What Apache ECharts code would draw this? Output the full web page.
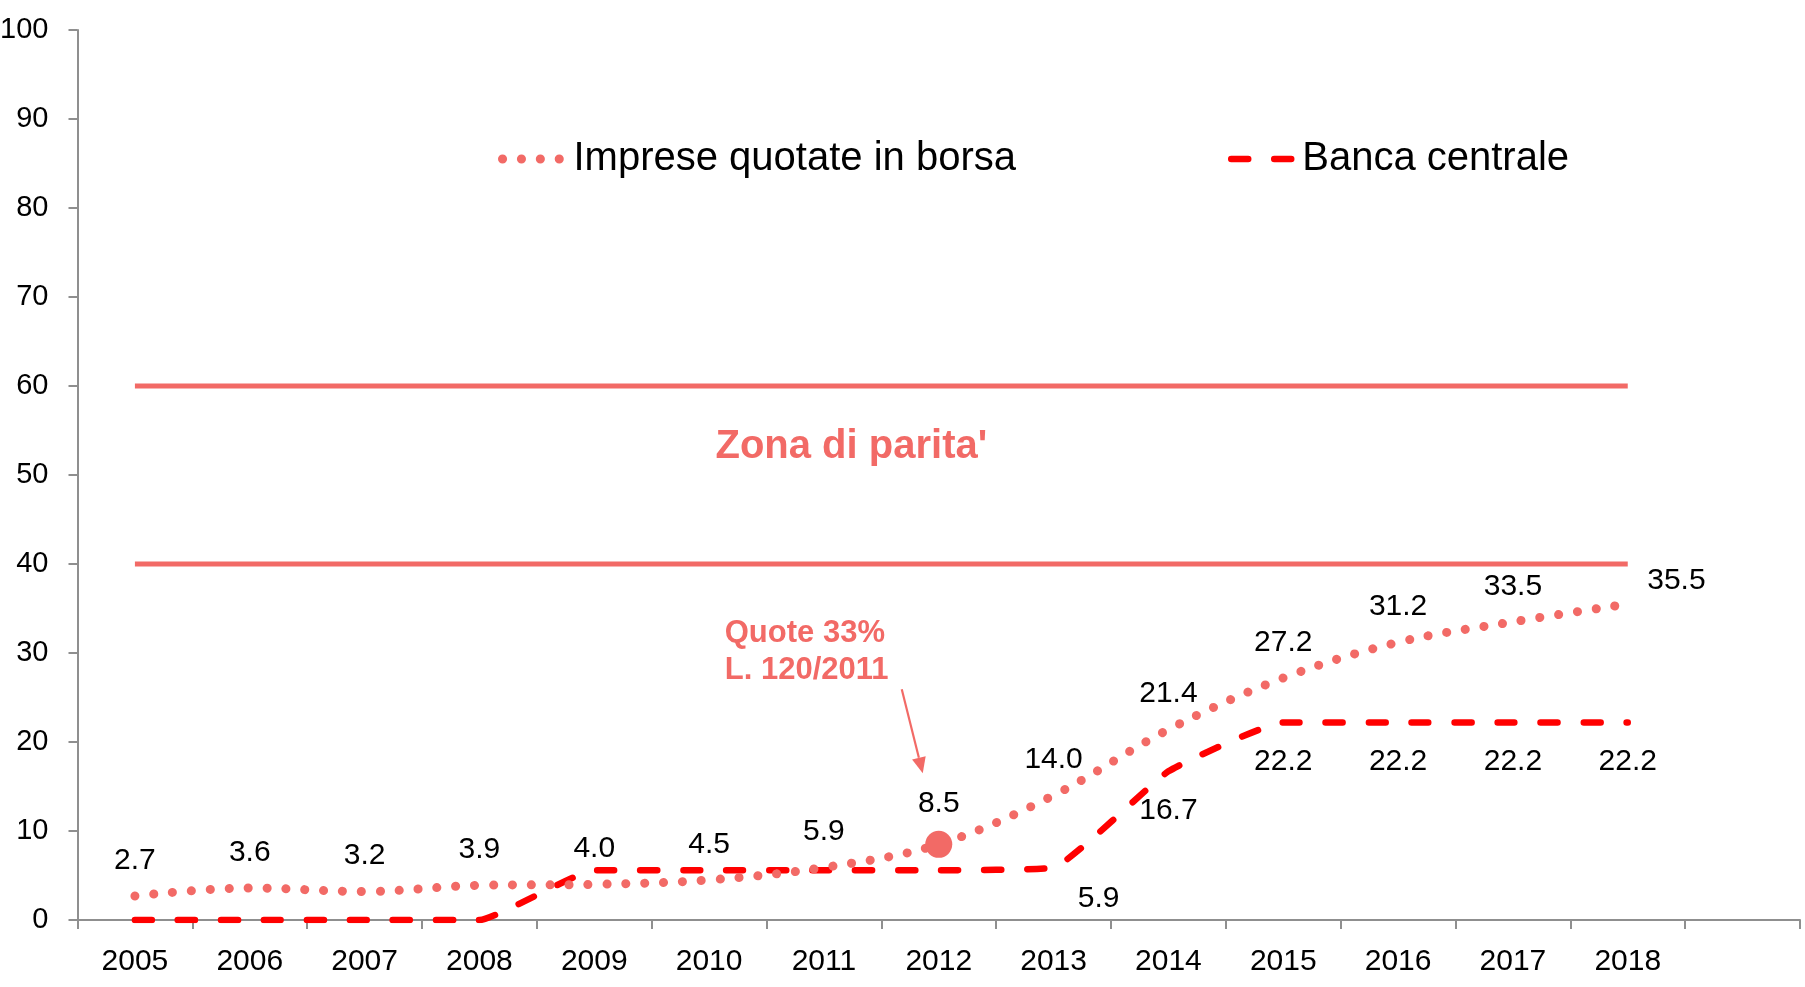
<!DOCTYPE html>
<html>
<head>
<meta charset="utf-8">
<script src="https://cdn.jsdelivr.net/npm/echarts@6/dist/echarts.min.js"></script>
<style>
html,body{margin:0;padding:0;background:#fff;}
#main{width:1805px;height:987px;}
</style>
</head>
<body>
<div id="main"></div>
<script>
// ---- data ----
const years = ['2005','2006','2007','2008','2009','2010','2011','2012','2013','2014','2015','2016','2017','2018'];
const impreseValues = [2.7, 3.6, 3.2, 3.9, 4.0, 4.5, 5.9, 8.5, 14.0, 21.4, 27.2, 31.2, 33.5, 35.5];
const bancaValues = [0, 0, 0, 0, 5.6, 5.6, 5.6, 5.6, 5.9, 16.7, 22.2, 22.2, 22.2, 22.2];
const parityUpper = 60;
const parityLower = 40;
const yTicks = [0, 10, 20, 30, 40, 50, 60, 70, 80, 90, 100];
const seriesNames = ['Imprese quotate in borsa', 'Banca centrale'];
const zoneLabel = "Zona di parita'";
const noteLabel = 'Quote 33%\nL. 120/2011';
const noteYear = '2012';

// ---- styling ----
const FONT = '"Liberation Sans", Arial, sans-serif';
const SALMON = '#f26a66';
const RED = '#ff0000';
const AXIS = '#8f8f8f';
const CLEAR = 'rgba(0,0,0,0)';

const xCats = years.concat(['']);

const impreseData = impreseValues.map((v, i) => {
  const item = { value: v };
  if (years[i] === noteYear) {
    item.symbol = 'circle';
    item.symbolSize = 27;
    item.itemStyle = { color: SALMON };
    item.label = { distance: 12 };
  }
  if (i === impreseValues.length - 1) {
    item.label = { position: 'right', distance: 19, offset: [0, -23] };
  }
  return item;
});

const bancaData = bancaValues.map((v, i) => {
  const item = { value: v };
  if (i >= 8) {
    item.label = { show: true, position: 'bottom', distance: 24 };
  }
  if (i === 8) {
    item.label = { show: true, position: 'bottom', distance: 16, offset: [45, 0] };
  }
  return item;
});

const labelStyle = { color: '#000', fontFamily: FONT, fontSize: 30 };

const chart = echarts.init(document.getElementById('main'), null, { renderer: 'canvas' });

const option = {
  animation: false,
  backgroundColor: '#fff',
  grid: { left: 77.5, right: 5, top: 30, bottom: 67, containLabel: false, outerBoundsMode: 'none' },
  legend: {
    data: seriesNames,
    left: 493,
    top: 134,
    itemWidth: 66,
    itemHeight: 40,
    itemGap: 212,
    lineStyle: { width: 'inherit' },
    textStyle: { fontFamily: FONT, fontSize: 40, color: '#000', padding: [0, 0, 0, 0] }
  },
  xAxis: {
    type: 'category',
    data: xCats,
    boundaryGap: true,
    axisLine: { lineStyle: { color: AXIS, width: 2 } },
    axisTick: { show: true, length: 9, interval: 0, lineStyle: { color: AXIS, width: 2 } },
    axisLabel: { interval: 0, margin: 27, color: '#000', fontFamily: FONT, fontSize: 30 },
    splitLine: { show: false }
  },
  yAxis: {
    type: 'value',
    min: yTicks[0],
    max: yTicks[yTicks.length - 1],
    interval: yTicks[1] - yTicks[0],
    axisLine: { show: true, lineStyle: { color: AXIS, width: 2 } },
    axisTick: { show: true, length: 9, lineStyle: { color: AXIS, width: 2 } },
    axisLabel: { margin: 29, color: '#000', fontFamily: FONT, fontSize: 29 },
    splitLine: { show: false }
  },
  series: [
    {
      name: seriesNames[0],
      type: 'line',
      data: impreseData,
      smooth: 0.35,
      symbol: 'circle',
      symbolSize: 1,
      showSymbol: true,
      showAllSymbol: true,
      itemStyle: { color: CLEAR },
      lineStyle: { color: SALMON, width: 9, type: [0.1, 18.8], cap: 'round' },
      label: Object.assign({ show: true, position: 'top', distance: 20, formatter: p => p.value.toFixed(1) }, labelStyle),
      emphasis: { disabled: true },
      z: 4
    },
    {
      name: seriesNames[1],
      type: 'line',
      data: bancaData,
      smooth: 0.12,
      symbol: 'circle',
      symbolSize: 1,
      showSymbol: true,
      showAllSymbol: true,
      itemStyle: { color: CLEAR },
      lineStyle: { color: RED, width: 6.5, type: [17, 26], cap: 'round' },
      label: Object.assign({ show: false, formatter: p => p.value.toFixed(1) }, labelStyle),
      emphasis: { disabled: true },
      z: 3
    },
    {
      name: 'upper',
      type: 'line',
      data: years.map(() => parityUpper),
      symbol: 'none',
      lineStyle: { color: SALMON, width: 5 },
      emphasis: { disabled: true },
      z: 2,
      markArea: {
        silent: true,
        itemStyle: { color: CLEAR },
        label: {
          show: true,
          position: 'inside',
          offset: [-30, -28],
          color: SALMON,
          fontFamily: FONT,
          fontWeight: 'bold',
          fontSize: 40,
          textBorderColor: '#fff',
          textBorderWidth: 3,
          textShadowColor: '#9fd6e6',
          textShadowBlur: 0,
          textShadowOffsetX: 2,
          textShadowOffsetY: 3
        },
        data: [[
          { name: zoneLabel, xAxis: years[0], yAxis: parityLower },
          { xAxis: years[years.length - 1], yAxis: parityUpper }
        ]]
      }
    },
    {
      name: 'lower',
      type: 'line',
      data: years.map(() => parityLower),
      symbol: 'none',
      lineStyle: { color: SALMON, width: 5 },
      emphasis: { disabled: true },
      z: 2
    }
  ]
};

chart.setOption(option);

// annotation arrow + text anchored to the 2012 data point
const idx = years.indexOf(noteYear);
const pt = chart.convertToPixel({ seriesIndex: 0 }, [idx, impreseValues[idx]]);
const start = [pt[0] - 37, pt[1] - 155];
const tip = [pt[0] - 16, pt[1] - 71];
const dx = tip[0] - start[0], dy = tip[1] - start[1];
const len = Math.sqrt(dx * dx + dy * dy);
const ux = dx / len, uy = dy / len;
const headL = 16, headW = 7;
const base = [tip[0] - ux * headL, tip[1] - uy * headL];
const px = -uy, py = ux;

chart.setOption({
  graphic: [
    {
      type: 'line',
      shape: { x1: start[0], y1: start[1], x2: base[0], y2: base[1] },
      style: { stroke: SALMON, lineWidth: 2.2 },
      silent: true
    },
    {
      type: 'polygon',
      shape: { points: [tip, [base[0] + px * headW, base[1] + py * headW], [base[0] - px * headW, base[1] - py * headW]] },
      style: { fill: SALMON },
      silent: true
    },
    {
      type: 'text',
      x: pt[0] - 214,
      y: pt[1] - 229,
      style: {
        text: noteLabel,
        fill: SALMON,
        font: 'bold 31px ' + FONT,
        lineHeight: 37,
        align: 'left',
        verticalAlign: 'top'
      },
      silent: true
    }
  ]
});
</script>
</body>
</html>
